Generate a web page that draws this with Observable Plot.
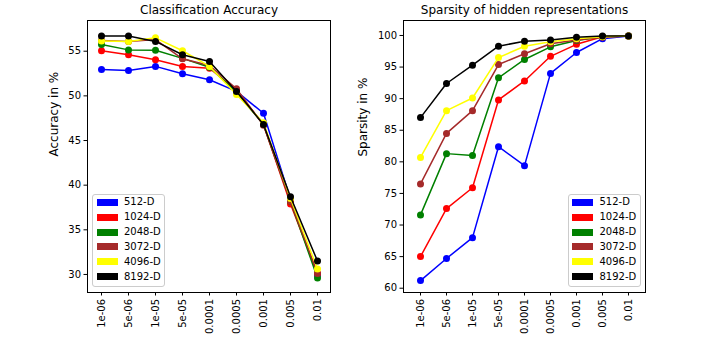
<!DOCTYPE html>
<html>
<head>
<meta charset="utf-8">
<script src="https://cdn.jsdelivr.net/npm/d3@7"></script>
<script src="https://cdn.jsdelivr.net/npm/@observablehq/plot@0.6"></script>
<style>
  body { margin: 0; background: #fff; }
  #wrap { position: relative; width: 706px; height: 337px; font-family: "DejaVu Sans", sans-serif; }
  #wrap svg { position: absolute; top: 0; font-family: "DejaVu Sans", sans-serif; }
  .legend { position: absolute; border: 1px solid #cccccc; border-radius: 3px; background: rgba(255,255,255,0.85); box-sizing: border-box; }
  .legend .sw { position: absolute; width: 21px; height: 7px; }
  .legend .lb { position: absolute; font-size: 10px; line-height: 12px; color: #000; white-space: nowrap; }
</style>
</head>
<body>
<div id="wrap"></div>
<script>
const lrs = ["1e-06","5e-06","1e-05","5e-05","0.0001","0.0005","0.001","0.005","0.01"];
const dims = ["512-D","1024-D","2048-D","3072-D","4096-D","8192-D"];
const colors = ["blue","red","green","brown","yellow","black"];

const acc512  = [52.95, 52.85, 53.3, 52.47, 51.8, 50.5, 48.05, 38.4, 29.9];
const acc1024 = [55.05, 54.6, 54.05, 53.3, 53.1, 50.6, 46.8, 37.9, 30.1];
const acc2048 = [55.75, 55.15, 55.1, 54.2, 53.2, 50.4, 46.8, 38.2, 29.6];
const acc3072 = [56.2, 56.1, 56.3, 54.15, 53.4, 50.8, 46.7, 38.2, 30.1];
const acc4096 = [56.15, 56.1, 56.5, 55.05, 53.3, 50.15, 47.0, 38.5, 30.6];
const acc8192 = [56.7, 56.7, 56.1, 54.6, 53.85, 50.5, 46.8, 38.7, 31.5];

const sp512  = [61.2, 64.7, 68.0, 82.4, 79.4, 94.0, 97.3, 99.5, 99.9];
const sp1024 = [65.0, 72.6, 75.9, 89.8, 92.8, 96.7, 98.6, 99.8, 99.9];
const sp2048 = [71.6, 81.3, 81.0, 93.3, 96.2, 98.2, 99.2, 99.8, 99.9];
const sp3072 = [76.5, 84.5, 88.1, 95.4, 97.1, 98.7, 99.3, 99.7, 99.9];
const sp4096 = [80.7, 88.1, 90.1, 96.5, 98.3, 99.0, 99.5, 99.8, 99.9];
const sp8192 = [87.0, 92.4, 95.3, 98.3, 99.1, 99.3, 99.7, 99.9, 99.9];

const accTicks = [30, 35, 40, 45, 50, 55];
const spTicks = [60, 65, 70, 75, 80, 85, 90, 95, 100];

const accSeries = [acc512, acc1024, acc2048, acc3072, acc4096, acc8192];
const spSeries = [sp512, sp1024, sp2048, sp3072, sp4096, sp8192];

function toRows(series) {
  return series.map((vals, i) => vals.map((v, j) => ({lr: lrs[j], v, dim: dims[i], color: colors[i]})));
}

function makePlot(series, opts) {
  const rows = toRows(series);
  const marks = [];
  rows.forEach(r => {
    marks.push(Plot.line(r, {x: "lr", y: "v", stroke: r[0].color, strokeWidth: 1.5}));
    marks.push(Plot.dot(r, {x: "lr", y: "v", fill: r[0].color, r: 3.5}));
  });
  marks.push(Plot.frame({stroke: "black", strokeWidth: 1}));
  marks.push(Plot.axisX({tickRotate: -90, tickSize: 3.5, tickPadding: 3, label: null, fontSize: 10}));
  marks.push(Plot.axisY({ticks: opts.ticks, tickSize: 3.5, tickPadding: 3, label: null, fontSize: 10}));
  marks.push(Plot.text([opts.title], {frameAnchor: "top", lineAnchor: "middle", dy: -10, fontSize: 12, fill: "black"}));
  marks.push(Plot.text([opts.ylabel], {frameAnchor: "left", lineAnchor: "middle", rotate: -90, dx: opts.labelDx, fontSize: 12, fill: "black"}));
  return Plot.plot({
    width: 353,
    height: 337,
    marginLeft: opts.ml,
    marginRight: opts.mr,
    marginTop: 20,
    marginBottom: 45,
    style: {background: "white", color: "black", fontFamily: "DejaVu Sans", fontSize: "10px"},
    x: {type: "point", domain: lrs, padding: 0.5},
    y: {domain: opts.domain},
    marks
  });
}

const wrap = document.getElementById("wrap");
const left = makePlot(accSeries, {
  title: "Classification Accuracy", ylabel: "Accuracy in %", ticks: accTicks,
  domain: [27.98, 58.44], ml: 87, mr: 23, labelDx: -33.7
});
left.style.left = "0px";
wrap.appendChild(left);

const right = makePlot(spSeries, {
  title: "Sparsity of hidden representations", ylabel: "Sparsity in %", ticks: spTicks,
  domain: [59.32, 102.37], ml: 50, mr: 61, labelDx: -40
});
right.style.left = "353px";
wrap.appendChild(right);

function addLegend(x, y) {
  const box = document.createElement("div");
  box.className = "legend";
  box.style.left = x + "px";
  box.style.top = y + "px";
  box.style.width = "73px";
  box.style.height = "93px";
  dims.forEach((d, i) => {
    const cy = 8.4 + i * 14.85;
    const sw = document.createElement("div");
    sw.className = "sw";
    sw.style.left = "3.5px";
    sw.style.top = (cy - 3.5 - 1) + "px";
    sw.style.background = colors[i];
    box.appendChild(sw);
    const lb = document.createElement("div");
    lb.className = "lb";
    lb.style.left = "31px";
    lb.style.top = (cy - 6 - 1) + "px";
    lb.textContent = d;
    box.appendChild(lb);
  });
  wrap.appendChild(box);
}
addLegend(92, 194);
addLegend(567.5, 194);
</script>
</body>
</html>
